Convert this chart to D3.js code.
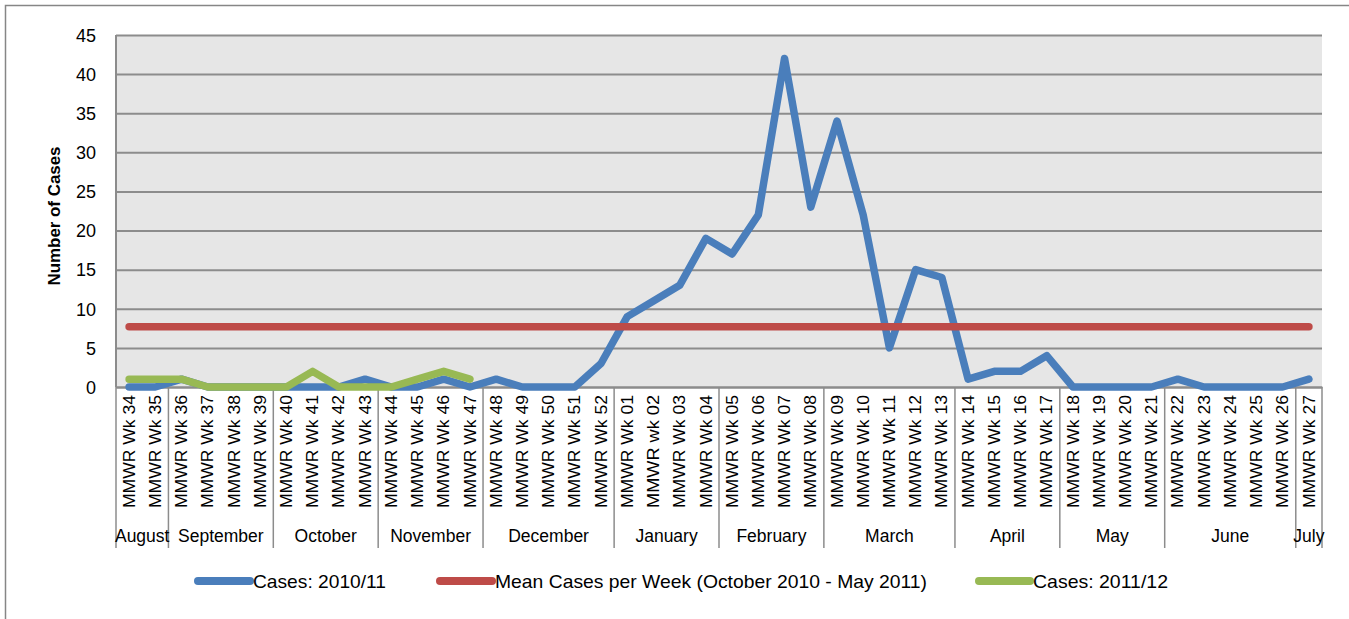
<!DOCTYPE html>
<html>
<head>
<meta charset="utf-8">
<script src="https://cdn.jsdelivr.net/npm/d3@7"></script>
<style>
  html, body { margin: 0; padding: 0; background: #ffffff; }
  svg { display: block; }
  text { font-family: "Liberation Sans", Arial, sans-serif; fill: #000; }
</style>
</head>
<body>
<svg id="chart" width="1349" height="619"></svg>
<script>
// ---------- data ----------
const weeks = [
  "MMWR Wk 34","MMWR Wk 35","MMWR Wk 36","MMWR Wk 37","MMWR Wk 38","MMWR Wk 39",
  "MMWR Wk 40","MMWR Wk 41","MMWR Wk 42","MMWR Wk 43","MMWR Wk 44","MMWR Wk 45",
  "MMWR Wk 46","MMWR Wk 47","MMWR Wk 48","MMWR Wk 49","MMWR Wk 50","MMWR Wk 51",
  "MMWR Wk 52","MMWR Wk 01","MMWR wk 02","MMWR Wk 03","MMWR Wk 04","MMWR Wk 05",
  "MMWR Wk 06","MMWR Wk 07","MMWR Wk 08","MMWR Wk 09","MMWR Wk 10","MMWR Wk 11",
  "MMWR Wk 12","MMWR Wk 13","MMWR Wk 14","MMWR Wk 15","MMWR Wk 16","MMWR Wk 17",
  "MMWR Wk 18","MMWR Wk 19","MMWR Wk 20","MMWR Wk 21","MMWR Wk 22","MMWR Wk 23",
  "MMWR Wk 24","MMWR Wk 25","MMWR Wk 26","MMWR Wk 27"
];
const cases201011 = [
  0, 0, 1, 0, 0, 0,
  0, 0, 0, 1, 0, 0,
  1, 0, 1, 0, 0, 0,
  3, 9, 11, 13, 19, 17,
  22, 42, 23, 34, 22, 5,
  15, 14, 1, 2, 2, 4,
  0, 0, 0, 0, 1, 0,
  0, 0, 0, 1
];
const cases201112 = [1, 1, 1, 0, 0, 0, 0, 2, 0, 0, 0, 1, 2, 1];
const meanCasesPerWeek = [7.7];
const months = ["August","September","October","November","December","January",
                "February","March","April","May","June","July"];
const monthWeekCounts = [2, 4, 4, 4, 5, 4, 4, 5, 4, 4, 5, 1];
const yTicks = [0, 5, 10, 15, 20, 25, 30, 35, 40, 45];
const seriesNames = ["Cases: 2010/11", "Mean Cases per Week (October 2010 - May 2011)", "Cases: 2011/12"];
const seriesColors = ["#4a7ebb", "#be4b48", "#98b954"];

(function () {
// ---------- layout ----------
const svg = d3.select("#chart");
const pLeft = 116, pRight = 1322, pTop = 35, pBottom = 387;

// outer chart border
svg.append("rect")
  .attr("x", 5.5).attr("y", 5.5).attr("width", 1360).attr("height", 640)
  .attr("fill", "none").attr("stroke", "#868686").attr("stroke-width", 1.5);

const x = d3.scaleBand().domain(weeks).range([pLeft, pRight]).padding(0);
const y = d3.scaleLinear().domain([0, 45]).range([pBottom, pTop]);
const cx = d => x(d) + x.bandwidth() / 2;

// plot background
svg.append("rect")
  .attr("x", pLeft).attr("y", pTop).attr("width", pRight - pLeft).attr("height", pBottom - pTop)
  .attr("fill", "#e6e6e6");

// gridlines via axis
const yAxis = d3.axisLeft(y).tickValues(yTicks).tickSize(-(pRight - pLeft)).tickPadding(20);
const gy = svg.append("g").attr("transform", `translate(${pLeft},0)`).call(yAxis);
gy.select(".domain").remove();
gy.selectAll(".tick line").attr("stroke", "#8c8c8c").attr("stroke-width", 2);
gy.selectAll(".tick text")
  .attr("font-size", 18).attr("font-family", "Liberation Sans, Arial, sans-serif")
  .attr("fill", "#000").attr("dy", "0.35em");

// left axis line
svg.append("line")
  .attr("x1", pLeft).attr("x2", pLeft).attr("y1", pTop).attr("y2", pBottom)
  .attr("stroke", "#8c8c8c").attr("stroke-width", 2);

// x axis with rotated week labels
const xAxis = d3.axisBottom(x).tickSize(0).tickPadding(0);
const gx = svg.append("g").attr("transform", `translate(0,${pBottom})`).call(xAxis);
gx.select(".domain").attr("stroke", "#8c8c8c").attr("stroke-width", 2);
gx.selectAll(".tick text")
  .attr("font-size", 16).attr("font-family", "Liberation Sans, Arial, sans-serif")
  .attr("fill", "#000")
  .attr("text-anchor", "end")
  .attr("transform", "translate(0,8) rotate(-90)")
  .attr("x", 0).attr("y", 0).attr("dy", "0.35em")
  .attr("textLength", 113).attr("lengthAdjust", "spacingAndGlyphs");

// month dividers and labels
let startIdx = 0;
const monthGroups = months.map((m, i) => {
  const s = startIdx; startIdx += monthWeekCounts[i];
  return { name: m, first: weeks[s], last: weeks[startIdx - 1] };
});
const boundaries = [pLeft].concat(monthGroups.map(g => x(g.last) + x.bandwidth()));
svg.append("g").selectAll("line").data(boundaries).join("line")
  .attr("x1", d => d).attr("x2", d => d)
  .attr("y1", pBottom).attr("y2", 548)
  .attr("stroke", "#8c8c8c").attr("stroke-width", 1.5);
svg.append("g").selectAll("text").data(monthGroups).join("text")
  .attr("x", g => (x(g.first) + x(g.last) + x.bandwidth()) / 2)
  .attr("y", 536).attr("dy", "0.35em")
  .attr("text-anchor", "middle").attr("font-size", 17.5)
  .text(g => g.name);

// y axis title
svg.append("text")
  .attr("transform", "translate(54,216) rotate(-90)")
  .attr("text-anchor", "middle").attr("dy", "0.35em")
  .attr("font-size", 17).attr("font-weight", "bold")
  .attr("textLength", 139).attr("lengthAdjust", "spacingAndGlyphs")
  .text("Number of Cases");

// ---------- series ----------
const line = d3.line().x(d => cx(d.w)).y(d => y(d.v));
const blueData = weeks.map((w, i) => ({ w, v: cases201011[i] }));
const meanData = [weeks[0], weeks[weeks.length - 1]].map(w => ({ w, v: meanCasesPerWeek[0] }));
const greenData = cases201112.map((v, i) => ({ w: weeks[i], v }));

[[blueData, 0], [meanData, 1], [greenData, 2]].forEach(([data, k]) => {
  svg.append("path").datum(data)
    .attr("d", line)
    .attr("fill", "none")
    .attr("stroke", seriesColors[k])
    .attr("stroke-width", 7.5)
    .attr("stroke-linejoin", "round")
    .attr("stroke-linecap", "round");
});

// ---------- legend ----------
const legendItems = [
  { x1: 198, x2: 250, tx: 253, len: 133 },
  { x1: 440, x2: 492, tx: 495, len: 432 },
  { x1: 979, x2: 1030, tx: 1033, len: 135 }
];
const lg = svg.append("g");
legendItems.forEach((it, k) => {
  lg.append("line")
    .attr("x1", it.x1).attr("x2", it.x2).attr("y1", 581).attr("y2", 581)
    .attr("stroke", seriesColors[k]).attr("stroke-width", 8).attr("stroke-linecap", "round");
  lg.append("text")
    .attr("x", it.tx).attr("y", 581).attr("dy", "0.35em")
    .attr("font-size", 19)
    .attr("textLength", it.len).attr("lengthAdjust", "spacingAndGlyphs")
    .text(seriesNames[k]);
});
})();
</script>
</body>
</html>
